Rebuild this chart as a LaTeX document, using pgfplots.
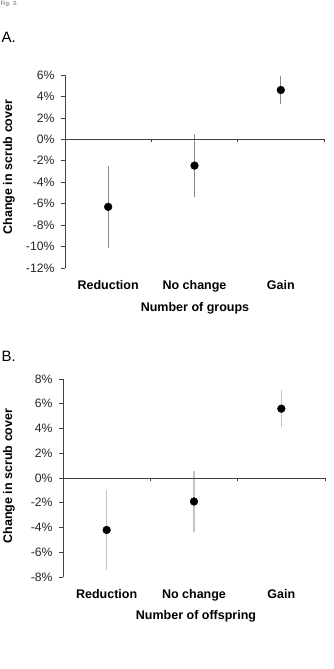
\documentclass[border=0pt]{standalone}
\usepackage{fontspec}
\setmainfont{Liberation Sans}
\usepackage{pgfplots}
\pgfplotsset{compat=1.18}
\definecolor{errA}{HTML}{8A8A8A}
\definecolor{errB}{HTML}{C4C4C4}
\definecolor{axc}{HTML}{404040}
\pgfplotsset{
  myax/.style={
    scale only axis, anchor=south west, clip=false,
    xmin=0.5, xmax=3.5,
    axis y line*=left, axis x line*=bottom,
    x axis line style={draw=none},
    xtick={1,2,3}, xticklabels={Reduction,No change,Gain},
    xtick style={draw=none},
    xticklabel style={font=\fontsize{12.5}{14}\selectfont\bfseries, yshift=-5pt},
    ytick style={draw=axc, line width=0.7pt},
    tick align=outside, major tick length=4pt,
    yticklabel={\pgfmathprintnumber{\tick}\%},
    yticklabel style={font=\fontsize{12.2}{14}\selectfont, text=black!85, xshift=-3pt},
    /pgf/number format/assume math mode=true,
    y axis line style={draw=axc, line width=0.7pt},
    error bars/y dir=both, error bars/y explicit, error bars/error mark=none,
  }
}
\begin{document}
\begin{tikzpicture}
\path[use as bounding box] (0pt,0pt) rectangle (334pt,669pt);
\node[anchor=west, font=\fontsize{6}{7}\selectfont, text=black!60] at (-3pt,665pt) {Fig. 3.};
\node[anchor=west, font=\fontsize{15}{17}\selectfont] at (-2pt,632pt) {A.};
\node[anchor=west, font=\fontsize{15}{17}\selectfont] at (-2pt,313pt) {B.};

% Panel A
\begin{axis}[myax, at={(65pt,401pt)}, width=259pt, height=193pt,
  ymin=-12, ymax=6, ytick={-12,-10,...,6}]
\addplot[only marks, mark=*, mark size=3.9pt, black,
  error bars/error bar style={errA, line width=0.9pt}]
  coordinates {
    (1,-6.3) +- (0,3.8)
    (2,-2.45) +- (0,2.95)
    (3,4.6) +- (0,1.35)
  };
\draw[axc, line width=0.7pt] (axis cs:0.5,0) -- (axis cs:3.5,0);
\draw[axc, line width=0.7pt] (axis cs:1.5,0) -- ([yshift=-3pt]axis cs:1.5,0);
\draw[axc, line width=0.7pt] (axis cs:2.5,0) -- ([yshift=-3pt]axis cs:2.5,0);
\draw[axc, line width=0.7pt] (axis cs:3.5,0) -- ([yshift=-3pt]axis cs:3.5,0);
\end{axis}
\node[font=\fontsize{12.5}{14}\selectfont\bfseries] at (195pt,361pt) {Number of groups};
\node[rotate=90, font=\fontsize{12.5}{14}\selectfont\bfseries] at (9pt,502pt) {Change in scrub cover};

% Panel B
\begin{axis}[myax, at={(63pt,92pt)}, width=262pt, height=198pt,
  ymin=-8, ymax=8, ytick={-8,-6,...,8}]
\addplot[only marks, mark=*, mark size=3.9pt, black,
  error bars/error bar style={errB, line width=1.4pt}]
  coordinates {
    (1,-4.2) +- (0,3.2)
    (2,-1.9) +- (0,2.5)
    (3,5.6) +- (0,1.5)
  };
\draw[axc, line width=0.7pt] (axis cs:0.5,0) -- (axis cs:3.5,0);
\draw[axc, line width=0.7pt] (axis cs:1.5,0) -- ([yshift=-3pt]axis cs:1.5,0);
\draw[axc, line width=0.7pt] (axis cs:2.5,0) -- ([yshift=-3pt]axis cs:2.5,0);
\draw[axc, line width=0.7pt] (axis cs:3.5,0) -- ([yshift=-3pt]axis cs:3.5,0);
\end{axis}
\node[font=\fontsize{12.5}{14}\selectfont\bfseries] at (196pt,53pt) {Number of offspring};
\node[rotate=90, font=\fontsize{12.5}{14}\selectfont\bfseries] at (9pt,193pt) {Change in scrub cover};
\end{tikzpicture}
\end{document}
